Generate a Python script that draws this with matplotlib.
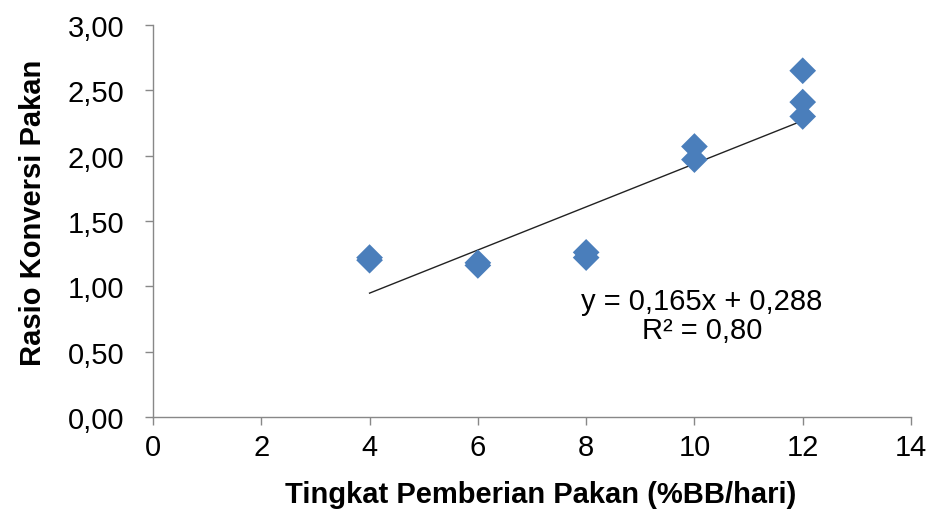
import matplotlib
matplotlib.use("Agg")
import matplotlib.pyplot as plt
import numpy as np

plt.rcParams['font.family'] = ['Liberation Sans', 'DejaVu Sans']

# Data
feeding_rate = [4, 4, 6, 6, 8, 8, 10, 10, 12, 12, 12]
fcr = [1.20, 1.22, 1.16, 1.18, 1.22, 1.26, 1.97, 2.07, 2.30, 2.41, 2.65]
trend_slope = 0.165
trend_intercept = 0.288
trend_x = [4, 12]
eq_text = "y = 0,165x + 0,288\nR² = 0,80"
x_ticks = [0, 2, 4, 6, 8, 10, 12, 14]
y_ticks = [0.0, 0.5, 1.0, 1.5, 2.0, 2.5, 3.0]
y_tick_labels = ["0,00", "0,50", "1,00", "1,50", "2,00", "2,50", "3,00"]

fig = plt.figure(figsize=(9.31, 5.10), dpi=100)
ax = fig.add_axes([153/931, 1 - 418/510, (911 - 153)/931, (418 - 26)/510])

tx = np.array(trend_x, dtype=float)
ax.plot(tx, trend_slope * tx + trend_intercept, color='#222222', lw=1.0, zorder=2)
ax.scatter(feeding_rate, fcr, marker='D', s=185, color='#4A7EBB', edgecolors='none', zorder=3)

ax.set_xlim(0, 14)
ax.set_ylim(0, 3)
ax.set_xticks(x_ticks)
ax.set_xticklabels([str(t) for t in x_ticks])
ax.set_yticks(y_ticks)
ax.set_yticklabels(y_tick_labels)

for s in ['top', 'right']:
    ax.spines[s].set_visible(False)
for s in ['left', 'bottom']:
    ax.spines[s].set_color('#888888')
    ax.spines[s].set_linewidth(1.0)
ax.tick_params(axis='both', direction='out', length=5.5, color='#888888', labelsize=21,
               labelcolor='black', width=1.0)
ax.tick_params(axis='x', pad=6)
ax.tick_params(axis='y', pad=15)

ax.set_xlabel("Tingkat Pemberian Pakan (%BB/hari)", fontsize=21, fontweight='bold', va='baseline')
ax.xaxis.set_label_coords((541 - 153) / 758, -(503 - 418) / 392)
ax.set_ylabel("Rasio Konversi Pakan", fontsize=21, fontweight='bold', va='center')
ax.yaxis.set_label_coords((33 - 153) / 758, (418 - 213) / 392)

ax.text(10.14, 0.78, eq_text, ha='center', va='center', fontsize=21, linespacing=1.05)

fig.savefig("out.png", dpi=100)
